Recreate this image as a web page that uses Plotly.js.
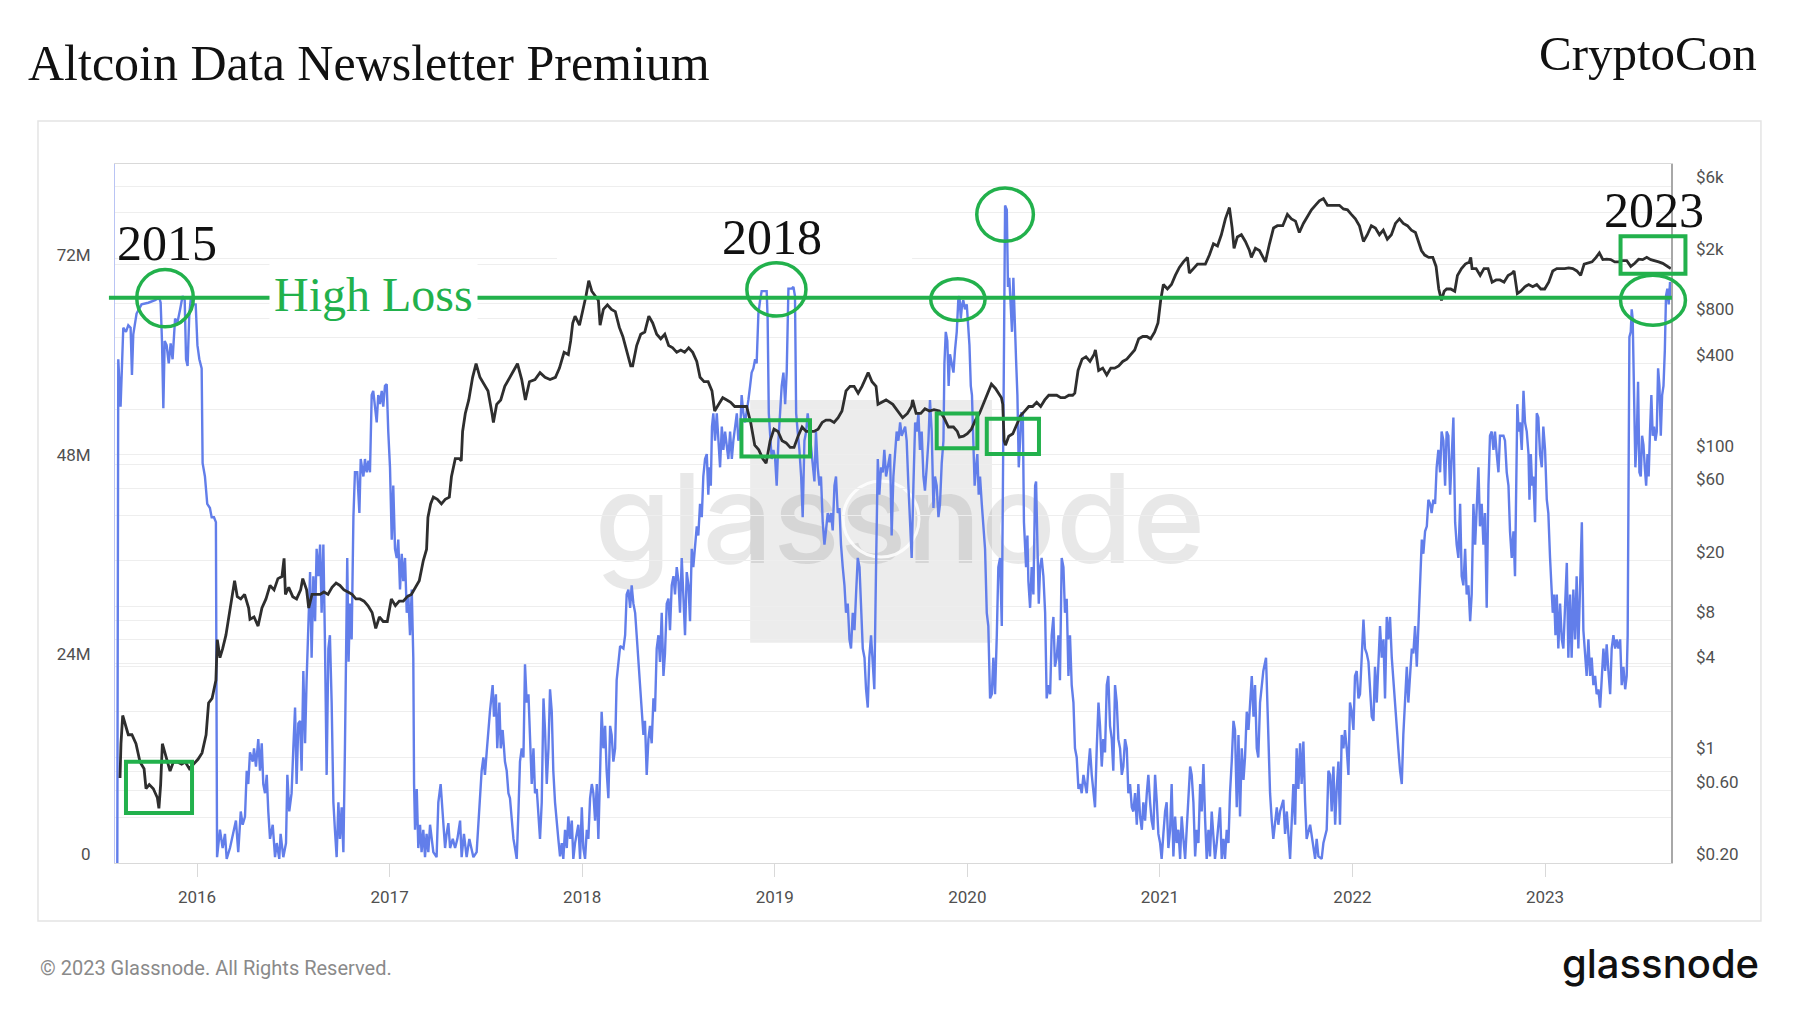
<!DOCTYPE html>
<html>
<head>
<meta charset="utf-8">
<script src="https://cdn.plot.ly/plotly-3.0.1.min.js"></script>
<style>
html,body{margin:0;padding:0;background:#ffffff;}
#chart{width:1800px;height:1013px;}
</style>
</head>
<body>
<div id="chart"></div>
<script>
// ---------- Axis ticks ----------
const yearTicks = [2016, 2017, 2018, 2019, 2020, 2021, 2022, 2023];
const yearLabels = ['2016', '2017', '2018', '2019', '2020', '2021', '2022', '2023'];
const supplyTicks = [0, 24, 48, 72];
const supplyLabels = ['0', '24M', '48M', '72M'];
const priceTicks = [0.2, 0.4, 0.6, 0.8, 1, 2, 4, 6, 8, 10, 20, 40, 60, 100, 200, 400, 600, 800, 1000, 2000, 4000, 6000];
const priceLabels = ['$0.20', '', '$0.60', '', '$1', '', '$4', '', '$8', '', '$20', '', '$60', '$100', '', '$400', '', '$800', '', '$2k', '', '$6k'];

// ---------- Supply in loss (millions), time in decimal years ----------
const lossYearsA = [
2015.586,2015.591,2015.603,2015.610,2015.617,2015.631,2015.643,2015.655,2015.662,2015.669,
2015.686,2015.712,2015.747,2015.782,2015.804,2015.811,2015.818,2015.825,2015.832,2015.842,
2015.853,2015.863,2015.873,2015.886,2015.898,2015.912,2015.925,2015.936,2015.943,2015.951,
2015.960,2015.969,2015.981,2015.993,2016.002,2016.012,2016.024,2016.029,2016.041,2016.053,
2016.067,2016.076,2016.088,2016.098,2016.104,2016.119,2016.133,2016.145,2016.154,2016.171,
2016.188,2016.202,2016.214,2016.227,2016.237,2016.249,2016.258,2016.266,2016.275,2016.289,
2016.296,2016.306,2016.318,2016.327,2016.336,2016.344,2016.353,2016.362,2016.370,2016.379,
2016.393,2016.405,2016.414,2016.427,2016.434,2016.448,2016.462,2016.469,2016.479,2016.491,
2016.500,2016.509,2016.517,2016.526,2016.535,2016.543,2016.552,2016.561,2016.569,2016.578,
2016.587,2016.595,2016.604,2016.613,2016.621,2016.630,2016.639,2016.647,2016.656,2016.664,
2016.673,2016.682,2016.690,2016.699,2016.708,2016.716,2016.725,2016.734,2016.742,2016.751,
2016.760,2016.768,2016.777,2016.780,2016.787,2016.794,2016.803,2016.812,2016.820,2016.832,
2016.843,2016.850,2016.864,2016.872,2016.881,2016.890,2016.898,2016.907,2016.915,2016.924,
2016.933,2016.941,2016.950,2016.959,2016.967,2016.976,2016.985,2016.993,2017.002,2017.011,
2017.019,2017.028,2017.037,2017.045,2017.054,2017.063,2017.071,2017.080,2017.089,2017.097,
2017.106,2017.115,2017.123,2017.127,2017.132,2017.141,2017.149,2017.158,2017.166,2017.175,
2017.184,2017.192,2017.201,2017.210,2017.227,2017.244,2017.253,2017.265,2017.275,2017.288,
2017.296,2017.305,2017.314,2017.328,2017.340,2017.352,2017.366,2017.374,2017.386,2017.400,
2017.414,2017.435,2017.452,2017.469,2017.478,2017.487,2017.495,2017.504,2017.513,2017.521,
2017.535,2017.542,2017.552,2017.559,2017.570,2017.577,2017.587,2017.599,2017.608,2017.617,2017.625];
const lossValuesA = [
0,60.6,54.9,61.2,64.4,63.9,64.7,64.4,58.7,63.6,
66.1,67.2,67.4,67.7,68.0,67.4,62.8,54.7,62.8,62.3,
60.1,62.5,60.6,65.5,65.0,66.6,68.2,67.7,60.6,59.8,
66.1,68.2,67.2,67.2,62.3,60.6,59.5,48.1,46.5,43.2,
42.7,41.6,41.6,41.0,0.7,4.0,1.8,3.5,0.5,1.8,
3.5,5.1,1.3,6.2,4.6,5.6,11.1,9.5,13.3,12.2,
13.8,11.6,14.9,11.1,14.4,9.5,8.4,10.6,6.2,2.9,
4.6,0.7,2.4,0.5,3.5,0.7,2.4,10.6,6.2,8.4,
13.8,18.7,9.5,16.8,17.1,11.1,23.1,14.4,22.0,30.1,
35.0,24.7,34.5,29.1,37.8,34.5,38.3,30.1,38.3,26.9,
10.6,25.8,27.4,19.3,7.3,4.0,0.7,7.3,2.9,6.7,
1.3,13.8,30.1,36.7,24.2,31.2,26.9,41.6,47.0,47.0,
42.1,48.6,46.5,48.6,47.0,48.4,47.0,56.3,56.8,55.2,
53.0,56.3,55.2,56.8,54.9,57.4,57.6,51.9,47.6,38.9,
45.4,37.8,36.7,38.9,32.9,37.2,33.9,36.7,30.1,32.3,
27.4,32.9,24.7,9.5,4.0,8.9,1.8,4.6,1.3,4.0,
0.7,3.5,1.3,4.6,1.3,0.7,7.3,9.5,6.2,1.8,
3.5,4.8,1.8,2.9,1.8,2.9,5.1,0.7,3.5,0.7,
2.9,0.7,1.3,8.4,11.1,12.7,10.6,13.3,16.0,18.2,
21.4,17.6,20.3,13.8,19.3,13.8,16.0,12.2,11.1,8.4,7.8];

const lossYearsB = [
2017.634,2017.643,2017.651,2017.660,2017.669,2017.677,2017.686,2017.695,2017.703,2017.712,
2017.721,2017.729,2017.738,2017.747,2017.755,2017.764,2017.773,2017.781,2017.790,2017.799,
2017.807,2017.816,2017.825,2017.833,2017.842,2017.850,2017.859,2017.868,2017.876,2017.885,
2017.894,2017.902,2017.911,2017.920,2017.928,2017.937,2017.946,2017.954,2017.963,2017.980,
2017.989,2017.998,2018.006,2018.015,2018.024,2018.032,2018.041,2018.050,2018.058,2018.067,
2018.076,2018.084,2018.093,2018.101,2018.110,2018.119,2018.127,2018.136,2018.145,2018.153,
2018.162,2018.171,2018.179,2018.188,2018.197,2018.214,2018.223,2018.231,2018.240,2018.249,
2018.257,2018.266,2018.275,2018.283,2018.292,2018.301,2018.309,2018.318,2018.326,2018.335,
2018.344,2018.352,2018.361,2018.370,2018.378,2018.387,2018.396,2018.404,2018.413,2018.422,
2018.430,2018.439,2018.448,2018.456,2018.465,2018.474,2018.482,2018.491,2018.500,2018.508,
2018.517,2018.526,2018.534,2018.543,2018.552,2018.560,2018.569,2018.577,2018.586,2018.595,
2018.603,2018.612,2018.621,2018.629,2018.638,2018.647,2018.655,2018.661,2018.668,2018.674,
2018.681,2018.690,2018.699,2018.707,2018.716,2018.725,2018.733,2018.742,2018.759,2018.768,
2018.777,2018.785,2018.803,2018.811,2018.820,2018.828,2018.837,2018.846,2018.854,2018.863,
2018.872,2018.880,2018.889,2018.898,2018.906,2018.915,2018.924,2018.932,2018.950,2018.958,
2018.963,2018.969,2018.984,2018.993,2019.002,2019.010,2019.019,2019.028,2019.036,2019.045,
2019.054,2019.062,2019.071,2019.088,2019.097,2019.105,2019.111,2019.119,2019.128,2019.137,
2019.145,2019.154,2019.163,2019.171,2019.180,2019.189,2019.197,2019.206,2019.214,2019.223,
2019.232,2019.240,2019.249,2019.258,2019.266,2019.275,2019.284,2019.292,2019.301,2019.310,
2019.318,2019.327,2019.336,2019.344,2019.353,2019.362,2019.370,2019.379,2019.388,2019.396,
2019.405,2019.414,2019.422,2019.431,2019.440,2019.448,2019.457,2019.466,2019.474,2019.483,
2019.491,2019.500,2019.509,2019.517,2019.526,2019.535,2019.543,2019.552,2019.561,2019.569,
2019.578,2019.587];
const lossValuesB = [
5.1,2.9,1.8,0.5,6.2,12.2,13.8,12.7,23.9,19.3,
20.3,14.9,9.5,13.8,8.4,8.9,5.6,2.9,7.3,19.8,
16.0,9.5,13.8,20.9,18.2,11.1,7.3,4.6,2.9,0.8,
2.4,0.5,4.0,1.8,5.6,2.9,5.1,0.5,2.4,4.6,
0.5,6.7,1.8,0.5,4.0,2.9,7.8,9.5,8.4,5.1,
9.5,2.9,12.7,18.2,13.8,16.5,11.1,7.8,16.5,15.4,
12.2,13.8,22.0,24.2,26.1,25.8,27.4,32.3,32.9,30.7,
33.4,31.2,30.1,27.4,24.2,20.9,18.7,15.4,17.1,10.6,
14.9,16.5,14.4,19.8,18.2,25.8,27.4,24.2,30.1,22.5,
25.2,31.2,31.8,28.0,33.4,34.5,32.3,35.6,33.9,30.1,
36.7,32.3,27.4,35.0,33.4,29.1,37.8,35.6,37.8,40.5,
39.4,43.2,41.6,46.5,48.6,49.2,44.3,47.6,45.4,52.5,
54.1,50.8,54.1,50.8,47.6,52.5,49.7,51.9,48.6,51.9,
48.6,50.8,54.1,50.8,51.9,56.3,54.1,53.0,54.1,55.7,
57.4,59.0,59.5,60.6,60.1,66.1,67.7,68.8,68.8,68.8,
65.5,54.1,48.6,49.7,48.6,45.4,50.8,54.1,57.4,59.0,
55.2,59.0,69.1,69.1,69.3,68.2,54.1,51.9,49.7,46.5,
41.6,50.8,51.9,54.1,51.9,49.7,48.6,45.9,51.9,47.6,
45.4,46.5,41.0,38.3,40.0,42.1,41.0,42.1,40.0,45.4,
46.5,42.1,42.7,38.3,35.6,33.4,30.1,31.2,26.9,25.8,
30.1,28.0,32.3,36.7,35.6,30.1,25.8,24.7,20.9,18.7,
24.7,27.4,23.6,20.9,35.6,48.6,44.3,47.6,47.0,49.7,
46.5,47.6];

const lossYearsC = [
2019.599,2019.607,2019.616,2019.633,2019.642,2019.651,2019.659,2019.677,2019.685,2019.694,
2019.703,2019.711,2019.720,2019.729,2019.737,2019.746,2019.754,2019.763,2019.772,2019.780,
2019.789,2019.798,2019.806,2019.815,2019.824,2019.832,2019.841,2019.850,2019.858,2019.867,
2019.876,2019.881,2019.888,2019.896,2019.903,2019.910,2019.919,2019.928,2019.936,2019.945,
2019.953,2019.959,2019.966,2019.973,2019.979,2019.988,2019.997,2020.005,2020.011,2020.018,
2020.024,2020.031,2020.038,2020.045,2020.052,2020.059,2020.066,2020.075,2020.083,2020.092,
2020.101,2020.109,2020.118,2020.127,2020.135,2020.144,2020.153,2020.161,2020.170,2020.179,
2020.184,2020.191,2020.196,2020.205,2020.211,2020.218,2020.225,2020.232,2020.239,2020.246,
2020.253,2020.260,2020.267,2020.274,2020.281,2020.288,2020.294,2020.305,2020.312,2020.317,
2020.326,2020.334,2020.343,2020.352,2020.357,2020.364,2020.371,2020.378,2020.386,2020.395,
2020.404,2020.412,2020.421,2020.430,2020.438,2020.447,2020.455,2020.464,2020.473,2020.481,
2020.490,2020.499,2020.507,2020.516,2020.525,2020.533,2020.542,2020.551,2020.559,2020.568,
2020.577,2020.585,2020.594,2020.603,2020.611,2020.620,2020.629,2020.637,2020.646,2020.655,
2020.663,2020.672,2020.681,2020.689,2020.698,2020.706,2020.715,2020.724,2020.732,2020.741,
2020.750,2020.758,2020.767,2020.776,2020.784,2020.793,2020.802,2020.810,2020.819,2020.828,
2020.836,2020.845,2020.854,2020.862,2020.871,2020.880,2020.888,2020.897,2020.906,2020.914,
2020.923,2020.932,2020.940,2020.949,2020.957,2020.966,2020.975,2020.984,2020.992,2021.001,
2021.009,2021.018,2021.027,2021.035,2021.044,2021.053,2021.061,2021.070,2021.079,2021.087,
2021.096,2021.105,2021.113,2021.122,2021.131,2021.139,2021.148,2021.157,2021.165,2021.174,
2021.183,2021.191,2021.200,2021.209,2021.217,2021.226,2021.235,2021.243,2021.252,2021.260,
2021.269,2021.278,2021.286,2021.295,2021.304,2021.312,2021.321,2021.330,2021.338,2021.347,
2021.356,2021.364,2021.373,2021.382,2021.390,2021.399,2021.408,2021.416,2021.425,2021.434,
2021.442,2021.451,2021.460,2021.468,2021.477,2021.486,2021.494,2021.503,2021.511,2021.520,
2021.529,2021.537,2021.551,2021.558,2021.565,2021.572,2021.581,2021.589,2021.607,2021.615];
const lossValuesC = [
49.2,39.4,46.5,51.9,50.8,53.0,51.4,52.5,50.8,45.4,
41.6,36.7,45.4,53.0,51.9,54.1,49.7,51.9,46.5,44.8,
47.6,50.8,55.7,51.9,42.7,46.5,45.4,41.6,43.2,48.1,
50.8,60.1,63.9,62.8,57.4,61.2,60.1,59.0,61.7,63.9,
67.7,68.2,65.5,67.2,67.7,66.6,67.2,63.9,62.3,57.4,
56.3,50.8,45.4,47.6,49.2,44.3,46.5,43.2,39.9,37.8,
30.1,28.5,19.8,20.3,24.7,20.3,27.4,35.6,36.7,28.5,
43.2,67.2,79.1,78.6,69.3,70.4,67.2,63.9,70.4,64.4,
60.6,56.3,47.6,50.8,54.1,54.1,41.0,35.6,39.4,33.9,
30.7,35.6,32.3,45.4,45.9,38.3,31.2,35.6,36.7,34.5,
30.1,19.8,21.4,20.3,27.4,29.6,23.6,24.7,27.4,22.0,
36.7,35.6,30.1,31.8,22.5,27.4,21.4,19.3,13.8,12.7,
8.9,9.5,8.4,10.6,9.5,8.4,11.6,13.8,10.6,8.4,
6.7,13.8,19.3,16.5,11.6,14.9,13.3,21.4,22.5,16.5,
14.9,11.1,21.4,19.3,14.9,13.8,10.6,11.6,14.9,13.8,
8.4,9.5,6.7,6.2,8.4,4.6,9.5,5.6,4.0,7.3,
5.1,8.4,10.6,7.3,5.1,4.0,10.6,7.3,3.5,2.4,
0.5,3.5,6.2,7.3,1.8,4.0,9.5,0.8,5.6,2.4,
4.0,0.5,5.6,2.9,0.5,4.0,7.3,11.6,10.6,7.3,
0.8,4.0,2.4,9.5,6.2,11.9,5.1,0.5,4.0,0.8,
6.2,2.9,0.5,2.4,4.6,6.7,0.5,2.9,0.5,4.0,
2.4,8.4,12.2,17.1,16.0,6.7,15.4,5.6,13.8,10.0,
12.7,18.2,16.0,19.3,22.5,17.6,21.4,13.8,12.7,19.3,
21.4,23.1,24.7,19.3,13.8,8.4,5.1,2.9,6.7,4.6];

const lossYearsD = [
2021.624,2021.641,2021.650,2021.659,2021.676,2021.693,2021.702,2021.710,2021.719,2021.728,
2021.736,2021.745,2021.754,2021.762,2021.780,2021.797,2021.806,2021.814,2021.823,2021.840,
2021.849,2021.866,2021.875,2021.884,2021.892,2021.901,2021.910,2021.918,2021.927,2021.935,
2021.944,2021.953,2021.961,2021.970,2021.979,2021.987,2021.996,2022.005,2022.013,2022.022,
2022.031,2022.039,2022.048,2022.057,2022.065,2022.074,2022.083,2022.091,2022.100,2022.109,
2022.117,2022.126,2022.135,2022.143,2022.152,2022.161,2022.169,2022.178,2022.186,2022.195,
2022.204,2022.212,2022.221,2022.230,2022.238,2022.247,2022.256,2022.264,2022.273,2022.282,
2022.290,2022.299,2022.308,2022.316,2022.325,2022.334,2022.342,2022.351,2022.360,2022.368,
2022.377,2022.386,2022.394,2022.403,2022.411,2022.420,2022.429,2022.437,2022.446,2022.455,
2022.463,2022.472,2022.481,2022.489,2022.498,2022.507,2022.515,2022.524,2022.533,2022.541,
2022.550,2022.559,2022.567,2022.576,2022.585,2022.593,2022.602,2022.611,2022.619,2022.628,
2022.637,2022.645,2022.654,2022.662,2022.671,2022.680,2022.688,2022.697,2022.706,2022.714,
2022.723,2022.732,2022.740,2022.749,2022.758,2022.766,2022.784,2022.792,2022.801,2022.810,
2022.818,2022.827,2022.836,2022.844,2022.849,2022.856,2022.863,2022.870,2022.879,2022.888,
2022.896,2022.905,2022.914,2022.919,2022.926,2022.933,2022.939,2022.948,2022.957,2022.965,
2022.974,2022.983,2022.991,2023.000,2023.009,2023.017,2023.026,2023.035,2023.040,2023.047,
2023.054,2023.061,2023.069,2023.078,2023.087,2023.095,2023.104,2023.113,2023.121,2023.130,
2023.138,2023.147,2023.156,2023.164,2023.173,2023.182,2023.191,2023.199,2023.208,2023.216,
2023.225,2023.234,2023.242,2023.251,2023.260,2023.268,2023.277,2023.286,2023.294,2023.303,
2023.312,2023.320,2023.329,2023.338,2023.346,2023.355,2023.364,2023.372,2023.381,2023.390,
2023.398,2023.407,2023.416,2023.424,2023.429,2023.435,2023.438,2023.445,2023.450,2023.455,
2023.462,2023.469,2023.476,2023.483,2023.490,2023.497,2023.504,2023.511,2023.518,2023.525,
2023.532,2023.538,2023.545,2023.552,2023.559,2023.566,2023.573,2023.580,2023.587,2023.594,
2023.601,2023.608,2023.615,2023.622,2023.628,2023.635,2023.642,2023.649,2023.656];
const lossValuesD = [
6.2,7.6,3.5,6.2,0.5,9.5,4.6,13.8,8.9,14.4,
9.5,14.6,7.3,2.9,4.6,1.8,0.5,2.9,0.8,0.5,
2.4,4.0,11.1,10.6,6.2,11.6,4.6,8.9,12.2,4.6,
15.4,13.8,16.0,13.8,10.6,19.3,18.2,16.0,22.5,23.1,
19.8,20.3,24.7,29.3,25.8,25.2,24.2,21.4,17.6,17.1,
23.6,19.3,24.2,28.5,24.7,26.9,19.8,29.6,26.9,29.6,
24.7,22.0,19.3,15.4,13.8,11.1,9.5,15.4,19.3,23.6,
19.3,23.1,25.8,25.2,28.5,23.6,29.1,35.0,38.9,37.2,
39.9,40.5,43.7,43.2,42.1,43.7,43.2,47.6,49.7,47.0,
51.9,50.8,45.4,51.9,51.4,44.3,49.2,53.6,41.0,38.3,
36.7,43.2,34.5,33.4,37.8,32.3,33.4,29.1,32.3,43.2,
38.3,43.7,47.6,40.5,43.2,38.3,42.1,30.7,45.4,51.4,
51.9,49.7,51.9,49.2,47.0,51.4,51.4,50.8,47.0,45.4,
39.9,36.7,39.9,34.5,42.1,55.2,51.9,53.0,49.7,56.8,
53.0,51.9,49.2,43.7,49.2,45.4,46.5,41.0,54.1,53.6,
49.2,47.6,52.5,49.7,43.7,42.1,36.7,32.9,30.1,32.3,
27.4,32.3,25.8,31.2,26.9,25.8,30.1,36.1,24.7,32.3,
24.7,32.9,26.9,34.5,25.8,35.0,41.0,28.0,24.7,22.5,
26.9,22.5,24.7,21.4,22.5,20.3,20.9,18.7,22.0,25.8,
23.1,26.3,23.1,20.3,25.8,27.4,25.8,26.9,25.8,26.9,
21.4,23.6,20.9,22.5,27.4,46.5,63.3,63.9,66.6,65.5,
57.4,47.6,50.8,57.9,47.0,46.5,51.4,50.3,47.6,45.4,
49.2,46.5,51.9,56.3,51.4,52.5,50.8,51.9,59.5,57.4,
51.4,56.3,57.4,61.7,68.2,69.1,67.2,69.9,68.2];

// ---------- Price (USD, log axis), time in decimal years ----------
const priceYearsA = [
2015.600,2015.605,2015.614,2015.628,2015.643,2015.662,2015.683,2015.704,2015.725,2015.735,
2015.752,2015.773,2015.794,2015.802,2015.811,2015.820,2015.839,2015.860,2015.877,2015.898,
2015.920,2015.939,2015.960,2015.984,2016.005,2016.026,2016.047,2016.060,2016.078,2016.098,
2016.105,2016.119,2016.133,2016.150,2016.168,2016.185,2016.195,2016.209,2016.227,2016.247,
2016.268,2016.275,2016.296,2016.317,2016.337,2016.358,2016.379,2016.400,2016.420,2016.441,
2016.452,2016.459,2016.476,2016.497,2016.517,2016.538,2016.549,2016.569,2016.580,2016.597,
2016.618,2016.639,2016.659,2016.680,2016.701,2016.722,2016.742,2016.763,2016.784,2016.805,
2016.825,2016.846,2016.867,2016.888,2016.909,2016.928,2016.947,2016.967,2016.988,2017.009,
2017.030,2017.050,2017.071,2017.092,2017.113,2017.134,2017.154,2017.175,2017.192,2017.199,
2017.213,2017.227,2017.248,2017.269,2017.289,2017.310,2017.321,2017.341,2017.362,2017.372,
2017.379,2017.393,2017.411,2017.431,2017.449,2017.469,2017.490,2017.511,2017.532,2017.539,
2017.556,2017.577,2017.598,2017.618];
const priceValuesA = [
0.73,1.23,1.89,1.62,1.41,1.41,1.23,0.93,0.84,0.62,
0.66,0.62,0.54,0.46,0.66,1.23,1.00,0.81,0.93,0.93,
0.90,0.93,0.84,0.90,0.97,1.07,1.41,2.29,2.45,3.23,
6.00,4.56,5.23,6.43,9.07,12.8,14.7,11.55,11.16,11.96,
9.72,8.18,8.47,7.38,9.72,11.16,13.7,12.8,15.2,15.7,
20.7,11.96,13.3,11.55,11.16,12.8,15.2,12.8,9.72,11.96,
11.96,11.96,12.4,11.96,13.3,14.2,13.7,12.8,12.4,11.96,
11.16,11.16,10.78,10.06,9.07,7.13,8.47,7.91,7.91,11.16,
10.06,10.78,10.78,11.55,11.96,13.3,14.7,20.0,23.8,38.6,
47.4,52.6,50.8,47.4,50.8,52.6,71.7,94.4,94.4,91.2,
143,188,231,326,401,326,294,265,188,164,
216,231,284,315];

const priceYearsB = [
2017.634,2017.664,2017.686,2017.705,2017.726,2017.755,2017.781,2017.807,2017.833,2017.861,
2017.882,2017.906,2017.928,2017.940,2017.951,2017.963,2017.986,2018.003,2018.020,2018.034,
2018.050,2018.067,2018.084,2018.093,2018.110,2018.131,2018.152,2018.172,2018.193,2018.211,
2018.231,2018.252,2018.262,2018.283,2018.304,2018.325,2018.346,2018.366,2018.387,2018.408,
2018.429,2018.449,2018.470,2018.491,2018.512,2018.532,2018.553,2018.574,2018.595,2018.612,
2018.633,2018.654,2018.674,2018.688,2018.709,2018.730,2018.751,2018.771,2018.792,2018.813,
2018.834,2018.854,2018.875,2018.896,2018.917,2018.938,2018.955,2018.976,2018.996,2019.017,
2019.038,2019.059,2019.080,2019.100,2019.121,2019.142,2019.163,2019.183,2019.204,2019.225,
2019.246,2019.266,2019.287,2019.308,2019.329,2019.349,2019.370,2019.391,2019.412,2019.433,
2019.453,2019.474,2019.485,2019.505,2019.526,2019.536,2019.557,2019.578];
const priceValuesB = [
350,401,315,231,305,315,350,326,315,326,
375,477,461,567,746,827,721,886,1128,1420,
1209,1128,1053,721,917,983,917,886,697,607,
494,388,388,529,628,650,827,746,628,586,
628,529,511,477,494,477,511,477,415,326,
305,305,265,195,216,239,231,223,209,209,
209,209,164,116,108,94.4,88.1,124,148,143,
124,120,112,112,133,153,143,143,143,148,
164,170,170,164,176,195,265,284,284,256,
284,326,350,305,284,216,223,231];

const priceYearsC = [
2019.613,2019.637,2019.664,2019.689,2019.710,2019.716,2019.734,2019.758,2019.780,2019.803,
2019.827,2019.855,2019.879,2019.902,2019.928,2019.948,2019.959,2019.980,2020.000,2020.021,
2020.042,2020.063,2020.083,2020.104,2020.125,2020.146,2020.166,2020.177,2020.184,2020.191,
2020.198,2020.215,2020.236,2020.256,2020.277,2020.298,2020.319,2020.339,2020.360,2020.381,
2020.402,2020.423,2020.443,2020.464,2020.485,2020.506,2020.527,2020.547,2020.558,2020.565,
2020.575,2020.596,2020.616,2020.637,2020.658,2020.665,2020.682,2020.703,2020.724,2020.745,
2020.765,2020.786,2020.807,2020.828,2020.848,2020.869,2020.890,2020.911,2020.932,2020.952,
2020.973,2020.990,2021.004,2021.018,2021.039,2021.060,2021.080,2021.101,2021.122,2021.143,
2021.153,2021.174,2021.195,2021.215,2021.236,2021.257,2021.278,2021.299,2021.319,2021.340,
2021.361,2021.375,2021.385,2021.402,2021.423,2021.444,2021.465,2021.475,2021.496,2021.517,
2021.538,2021.548,2021.569,2021.590,2021.610];
const priceValuesC = [
216,195,176,188,209,231,188,188,202,195,
199,195,176,153,153,143,131,133,138,148,
170,188,216,256,294,275,248,239,216,124,
116,133,138,158,182,195,209,209,223,209,
231,248,248,248,239,239,248,248,256,305,
362,430,445,415,461,494,362,375,338,375,
375,388,415,430,461,494,586,607,607,586,
650,746,1053,1340,1251,1340,1538,1738,1891,2026,
1592,1706,1827,1827,1827,2097,2491,2407,2859,3639,
4323,3171,2325,2762,2859,2578,2247,2026,2325,2247,
2026,1891,2491,3171,3282];

const priceYearsD = [
2021.638,2021.662,2021.683,2021.704,2021.724,2021.745,2021.766,2021.787,2021.807,2021.828,
2021.849,2021.870,2021.890,2021.911,2021.932,2021.953,2021.974,2021.994,2022.015,2022.036,
2022.057,2022.077,2022.098,2022.119,2022.140,2022.160,2022.181,2022.202,2022.223,2022.244,
2022.264,2022.285,2022.306,2022.327,2022.344,2022.358,2022.375,2022.396,2022.417,2022.434,
2022.448,2022.462,2022.476,2022.489,2022.510,2022.531,2022.545,2022.566,2022.586,2022.607,
2022.614,2022.621,2022.642,2022.663,2022.683,2022.704,2022.725,2022.746,2022.766,2022.787,
2022.808,2022.829,2022.839,2022.849,2022.856,2022.874,2022.895,2022.915,2022.936,2022.957,
2022.978,2022.998,2023.019,2023.040,2023.061,2023.081,2023.102,2023.123,2023.144,2023.165,
2023.185,2023.203,2023.223,2023.244,2023.265,2023.282,2023.300,2023.320,2023.341,2023.362,
2023.383,2023.403,2023.424,2023.445,2023.466,2023.486,2023.507,2023.528,2023.549,2023.570,
2023.590,2023.611,2023.632,2023.653];
const priceValuesD = [
3282,3898,3639,3516,2959,3397,3767,4177,4475,4794,
4962,4475,4475,4475,4475,4235,4177,3898,3639,3282,
2578,2859,3282,3171,2859,3063,2669,2859,3397,3639,
3397,3282,3063,2959,2578,2247,2097,2026,2026,1765,
1251,1053,1209,1251,1251,1209,1538,1706,1827,1891,
2026,1706,1706,1538,1706,1706,1387,1436,1436,1387,
1538,1592,1648,1340,1168,1209,1295,1340,1295,1340,
1251,1251,1387,1648,1706,1706,1706,1726,1706,1648,
1538,1827,1850,1891,2026,2170,1957,1970,1957,1891,
1891,1930,1930,1765,1850,1970,1957,2026,1957,1930,
1891,1850,1765,1706];

const lossYears = [].concat(lossYearsA, lossYearsB, lossYearsC, lossYearsD);
const lossValues = [].concat(lossValuesA, lossValuesB, lossValuesC, lossValuesD);
const priceYears = [].concat(priceYearsA, priceYearsB, priceYearsC, priceYearsD);
const priceValues = [].concat(priceValuesA, priceValuesB, priceValuesC, priceValuesD);

// ---------- Annotation marks (data coordinates) ----------
const highLossLevel = 68.0;
const GREEN = '#22b14c';
const circlesXY = [
  [2015.687, 2015.981, 64.5, 71.4],
  [2018.855, 2019.162, 65.8, 72.2],
  [2019.810, 2020.092, 65.25, 70.3],
  [2020.049, 2020.343, 74.8, 81.2]
];
const boxesXY = [
  [2015.631, 2015.974, 6.0, 12.17],
  [2018.827, 2019.183, 48.91, 53.27],
  [2019.841, 2020.052, 49.90, 54.09],
  [2020.101, 2020.372, 49.19, 53.44]
];
const yearNotes = [
  ['2015', 2015.842, 74.6],
  ['2018', 2018.987, 75.3],
  ['2020', 2020.066, 84.27],
  ['2023', 2023.566, 78.6]
];

const xRange = [2015.574, 2023.654];
const yRange = [0, 84.09];
const y2Range = [Math.log10(0.2), 3.924];

const shapes = [];
// outer panel frame
shapes.push({type:'rect', xref:'paper', yref:'paper', x0:-0.0495, x1:1.0578, y0:-0.0830, y1:1.0615,
  line:{color:'#e4e4e4', width:1.5}, fillcolor:'rgba(0,0,0,0)', layer:'below'});
// watermark block
shapes.push({type:'rect', xref:'x', yref:'y', x0:2018.872, x1:2020.128, y0:26.5, y1:55.7,
  line:{width:0}, fillcolor:'rgba(0,0,0,0.075)', layer:'below'});
shapes.push({type:'rect', xref:'x', yref:'y', x0:2018.3, x1:2021.0, y0:32, y1:52,
  line:{width:0}, fillcolor:'rgba(0,0,0,0)', layer:'below',
  label:{text:'glassnode', textposition:'middle center',
    font:{family:'Inter, Roboto, sans-serif', size:124, weight:500, color:'rgba(0,0,0,0.09)'}}});
shapes.push({type:'circle', xref:'x', yref:'y', x0:2019.355, x1:2019.749, y0:36.81, y1:45.95,
  line:{color:'rgba(255,255,255,0.85)', width:3}, fillcolor:'rgba(0,0,0,0)', layer:'below'});
// gap in one gridline (white patch in the source image)
shapes.push({type:'rect', xref:'x', yref:'y', x0:2017.869, x1:2019.713, y0:72.36, y1:73.26,
  line:{width:0}, fillcolor:'#ffffff', layer:'between'});
// High loss line (paper coords so it can extend slightly left of the plot)
shapes.push({type:'line', xref:'paper', yref:'paper', x0:-0.0039, x1:1.0006,
  y0:highLossLevel/yRange[1], y1:highLossLevel/yRange[1], line:{color:GREEN, width:4}, layer:'above'});
circlesXY.forEach(c => shapes.push({type:'circle', xref:'x', yref:'y', x0:c[0], x1:c[1], y0:c[2], y1:c[3],
  line:{color:GREEN, width:3.5}, layer:'above'}));
boxesXY.forEach(b => shapes.push({type:'rect', xref:'x', yref:'y', x0:b[0], x1:b[1], y0:b[2], y1:b[3],
  line:{color:GREEN, width:4}, layer:'above'}));
// 2023 marks extend past the right edge -> paper coords
const px = t => (t - xRange[0]) / (xRange[1] - xRange[0]);
const py = v => v / yRange[1];
shapes.push({type:'circle', xref:'paper', yref:'paper', x0:px(2023.392), x1:px(2023.729), y0:py(64.7), y1:py(70.7),
  line:{color:GREEN, width:3.5}, layer:'above'});
shapes.push({type:'rect', xref:'paper', yref:'paper', x0:px(2023.392), x1:px(2023.729), y0:py(70.9), y1:py(75.4),
  line:{color:GREEN, width:4}, layer:'above'});

const annotations = [];
annotations.push({xref:'paper', yref:'paper', x:-0.0572, y:1.1452, xanchor:'left', yanchor:'middle', showarrow:false,
  text:'Altcoin Data Newsletter Premium', font:{family:'Liberation Serif, serif', size:50, color:'#111'}});
annotations.push({xref:'paper', yref:'paper', x:1.0566, y:1.1578, xanchor:'right', yanchor:'middle', showarrow:false,
  text:'CryptoCon', font:{family:'Liberation Serif, serif', size:49, color:'#111'}});
annotations.push({xref:'paper', yref:'paper', x:-0.0492, y:-0.1502, xanchor:'left', yanchor:'middle', showarrow:false,
  text:'© 2023 Glassnode. All Rights Reserved.', font:{family:'Roboto, sans-serif', size:20, color:'#8a8a8a'}});
annotations.push({xref:'paper', yref:'paper', x:1.0578, y:-0.1438, xanchor:'right', yanchor:'middle', showarrow:false,
  text:'glassnode', font:{family:'Inter, Roboto, sans-serif', size:40, weight:500, color:'#111'}});
yearNotes.forEach(n => annotations.push({xref:'x', yref:'y', x:n[1], y:n[2], xanchor:'center', yanchor:'middle',
  showarrow:false, borderpad:0, text:n[0], font:{family:'Liberation Serif, serif', size:50, color:'#111'}}));
annotations.push({xref:'x', yref:'y', x:2016.918, y:68.4, xanchor:'center', yanchor:'middle', showarrow:false,
  text:'High Loss', bgcolor:'#ffffff', borderpad:4, font:{family:'Liberation Serif, serif', size:48, color:GREEN}});

const tickFont = {family:'Roboto, sans-serif', size:17, color:'#505050'};

const data = [
  {x: lossYears, y: lossValues, type:'scatter', mode:'lines', yaxis:'y',
   line:{color:'#627eea', width:2.4}, hoverinfo:'skip'},
  {x: priceYears, y: priceValues, type:'scatter', mode:'lines', yaxis:'y2',
   line:{color:'#2e2e2e', width:2.8}, hoverinfo:'skip'}
];

const layout = {
  width:1800, height:1013,
  margin:{l:115, r:129, t:164, b:150, pad:0},
  paper_bgcolor:'#ffffff', plot_bgcolor:'#ffffff',
  showlegend:false,
  xaxis:{type:'linear', range:xRange, tickvals:yearTicks, ticktext:yearLabels,
    showgrid:false, zeroline:false, showline:true, linecolor:'#d9d9d9', linewidth:1, mirror:true,
    ticks:'outside', ticklen:13, tickcolor:'#d9d9d9', tickwidth:1, tickfont:tickFont, ticklabelstandoff:6},
  yaxis:{range:yRange, tickvals:supplyTicks, ticktext:supplyLabels,
    showgrid:true, gridcolor:'#eeeeee', gridwidth:1, zeroline:false,
    showline:true, linecolor:'#b9c4f4', linewidth:1, ticks:'', tickfont:tickFont,
    ticklabelshift:-9, ticklabelstandoff:20},
  yaxis2:{type:'log', overlaying:'y', side:'right', range:y2Range, tickvals:priceTicks, ticktext:priceLabels,
    showgrid:true, gridcolor:'#eeeeee', gridwidth:1, zeroline:false,
    showline:true, linecolor:'#a8a8a8', linewidth:1.5, ticks:'', tickfont:tickFont,
    ticklabelshift:-9, ticklabelstandoff:20},
  shapes: shapes,
  annotations: annotations
};

Plotly.newPlot('chart', data, layout, {staticPlot:true, displayModeBar:false});
</script>
</body>
</html>
